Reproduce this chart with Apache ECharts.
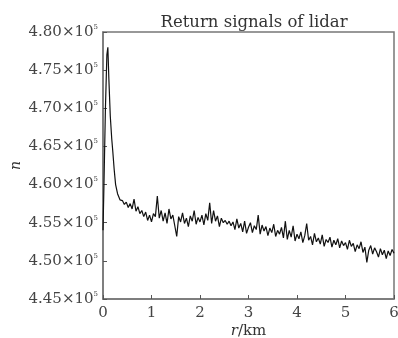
<!DOCTYPE html>
<html>
<head>
<meta charset="utf-8">
<script src="https://cdn.jsdelivr.net/npm/echarts@6/dist/echarts.min.js"></script>
<style>
  html, body { margin: 0; padding: 0; background: #fff; }
  #chart { width: 398px; height: 338px; }
</style>
</head>
<body>
<div id="chart"></div>
<script>
// near-range samples (km) and signal (x10^5)
const nearDistance = [0, 0.02, 0.05, 0.08, 0.1, 0.12, 0.15, 0.18, 0.2, 0.23, 0.26, 0.3, 0.35];
const nearSignal = [4.54, 4.60, 4.70, 4.77, 4.78, 4.74, 4.69, 4.66, 4.645, 4.62, 4.60, 4.588, 4.58];

// far-range samples start at 0.40 km, one every 0.04 km
const farStart = 0.4;
const farStep = 0.04;
const farSignal = [
  4.579, 4.574, 4.577, 4.570, 4.575, 4.568,
  4.581, 4.565, 4.571, 4.562, 4.566,
  4.558, 4.564, 4.553, 4.560, 4.551,
  4.562, 4.558, 4.585, 4.556, 4.566,
  4.552, 4.563, 4.549, 4.568, 4.555,
  4.560, 4.546, 4.532, 4.558, 4.551,
  4.563, 4.549, 4.556, 4.545, 4.559,
  4.552, 4.566, 4.548, 4.557, 4.551,
  4.560, 4.547, 4.562, 4.553, 4.576,
  4.549, 4.566, 4.552, 4.559, 4.545,
  4.556, 4.550, 4.553, 4.548, 4.552,
  4.546, 4.551, 4.541, 4.555, 4.543,
  4.549, 4.538, 4.552, 4.536, 4.544,
  4.550, 4.537, 4.546, 4.541, 4.560,
  4.535, 4.547, 4.539, 4.545, 4.533,
  4.543, 4.537, 4.548, 4.532, 4.540,
  4.535, 4.544, 4.530, 4.552, 4.528,
  4.540, 4.531, 4.546, 4.526, 4.535,
  4.529, 4.538, 4.524, 4.533, 4.549,
  4.527, 4.532, 4.521, 4.536, 4.525,
  4.530, 4.522, 4.534, 4.519, 4.528,
  4.524, 4.531, 4.518, 4.527, 4.521,
  4.529, 4.517, 4.526, 4.520, 4.524,
  4.515, 4.527, 4.519, 4.523, 4.512,
  4.521, 4.516, 4.525, 4.511, 4.518,
  4.498, 4.514, 4.520, 4.509, 4.517,
  4.512, 4.505, 4.516, 4.508, 4.514,
  4.503, 4.513, 4.507, 4.515, 4.510
];

const xTicks = [0, 1, 2, 3, 4, 5, 6];
const yTicks = [4.45, 4.50, 4.55, 4.60, 4.65, 4.70, 4.75, 4.80];

const points = nearDistance.map((r, i) => [r, nearSignal[i]]);
farSignal.forEach((v, i) => points.push([+(farStart + i * farStep).toFixed(2), v]));

const serif = '"DejaVu Serif", "Liberation Serif", serif';
const chart = echarts.init(document.getElementById('chart'));

chart.setOption({
  animation: false,
  title: {
    text: 'Return signals of lidar',
    left: 249,
    textAlign: 'center',
    top: 9,
    textStyle: { fontFamily: serif, fontSize: 16.5, fontWeight: 'normal', color: '#333' }
  },
  grid: {
    left: 103, right: 4, top: 32, bottom: 39,
    outerBoundsMode: 'none',
    containLabel: false,
    show: true, borderColor: '#777', borderWidth: 1.5
  },
  xAxis: {
    type: 'value',
    min: 0, max: 6, interval: 1,
    name: '{i|r}/km',
    nameLocation: 'middle',
    nameMoveOverlap: false,
    nameGap: 25,
    nameTextStyle: {
      fontFamily: serif, fontSize: 15, color: '#333',
      rich: { i: { fontFamily: serif, fontSize: 15, fontStyle: 'italic', color: '#333' } }
    },
    axisLine: { show: true, lineStyle: { color: '#777', width: 1.5 } },
    axisTick: { inside: true, length: 4, lineStyle: { color: '#555' } },
    axisLabel: { fontFamily: serif, fontSize: 15, color: '#444', margin: 7,
      formatter: v => xTicks.includes(v) ? String(v) : '' },
    splitLine: { show: false }
  },
  yAxis: {
    type: 'value',
    min: 4.45, max: 4.80, interval: 0.05,
    name: 'n',
    nameLocation: 'middle',
    nameMoveOverlap: false,
    nameGap: 80,
    nameTextStyle: { fontFamily: serif, fontSize: 14, fontStyle: 'italic', color: '#333' },
    axisLine: { show: true, lineStyle: { color: '#777', width: 1.5 } },
    axisTick: { inside: true, length: 4, lineStyle: { color: '#555' } },
    axisLabel: {
      margin: 5,
      formatter: v => {
        const t = yTicks.find(y => Math.abs(y - v) < 1e-6);
        return t === undefined ? '' : '{m|' + t.toFixed(2) + '×10}{s|5}';
      },
      rich: {
        m: { fontFamily: serif, fontSize: 15, color: '#444' },
        s: { fontFamily: serif, fontSize: 7, color: '#444', verticalAlign: 'top', padding: [0, 0, 10, 0] }
      }
    },
    splitLine: { show: false }
  },
  series: [{
    type: 'line',
    data: points,
    showSymbol: false,
    lineStyle: { color: '#111', width: 1.2 }
  }]
});
</script>
</body>
</html>
